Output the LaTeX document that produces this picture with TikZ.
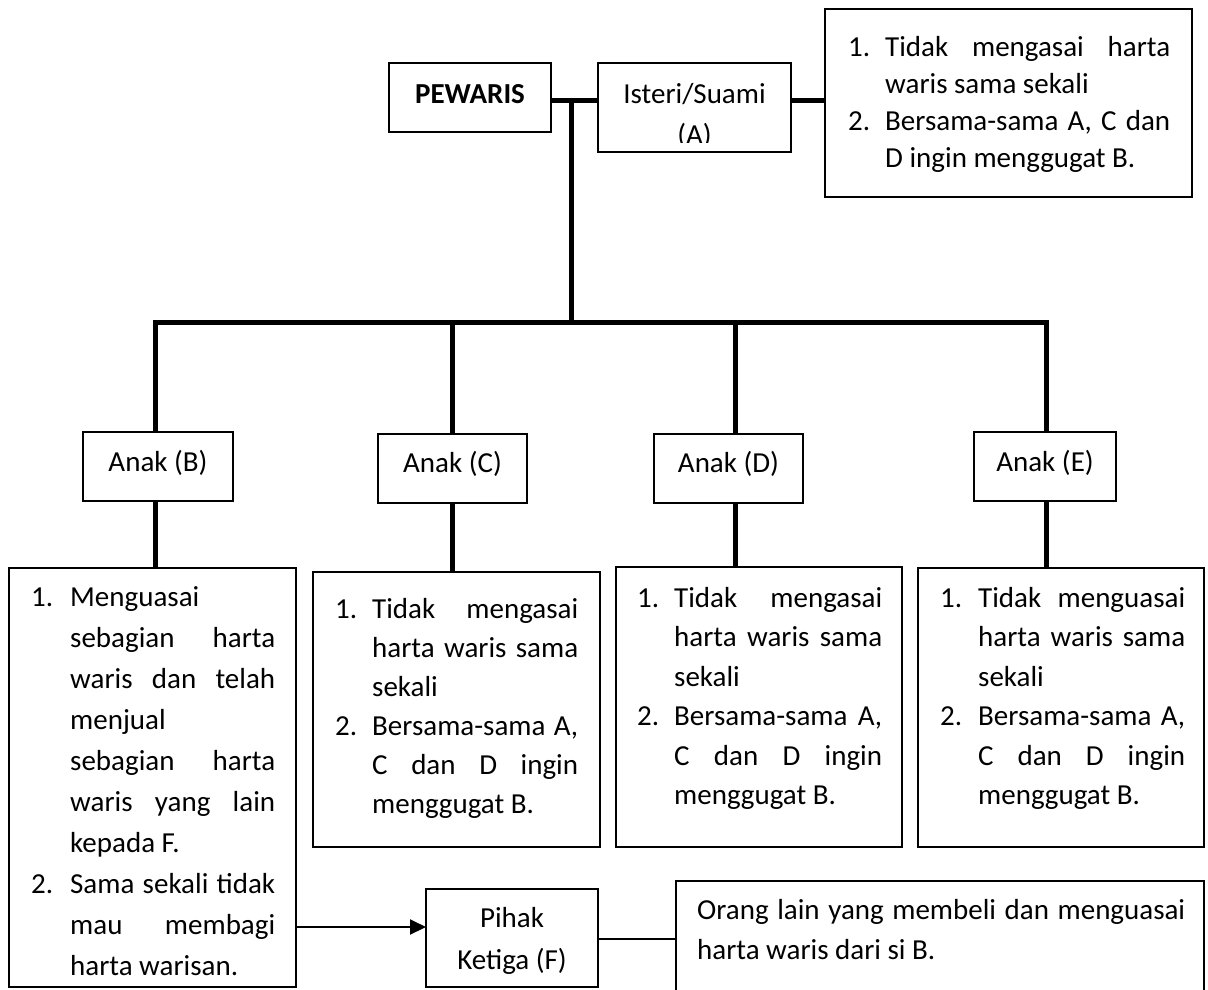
\documentclass[tikz,border=0pt]{standalone}
\usepackage{fontspec}
\setmainfont{Carlito}
\usetikzlibrary{arrows.meta,calc}
\newlength\nw
\newlength\tw
\newcommand\Ln[2]{\makebox[\nw][l]{#1}\makebox[\tw][s]{#2}\par}
\newcommand\Ll[2]{\makebox[\nw][l]{#1}\makebox[\tw][l]{#2}\par}
\newcommand\txtblock[4]{\parbox[t]{\dimexpr#1+#2\relax}{\setlength\nw{#1}\setlength\tw{#2}\fontsize{29pt}{#3}\selectfont\parindent=0pt\parskip=0pt\relax #4}}
\begin{document}
\begin{tikzpicture}[x=1pt,y=-1pt,
  frame/.style={draw=black, line width=2pt, rectangle, inner sep=0pt, outer sep=0pt},
  thickline/.style={line width=5pt, draw=black},
  thinline/.style={line width=2pt, draw=black},
  lbl/.style={inner sep=0pt, anchor=base, font=\fontsize{29pt}{41pt}\selectfont},
  blk/.style={inner sep=0pt, anchor=base west}]
\useasboundingbox (0,0) rectangle (1208,989);
\fill[white] (0,0) rectangle (1208,989);

% frames
\node[frame, minimum width=162pt, minimum height=69pt] (pw) at (470,97.5) {};
\node[frame, minimum width=193pt, minimum height=89pt] (iA) at (694.5,107.5) {};
\node[frame, minimum width=367pt, minimum height=188pt] (rA) at (1008.5,103) {};
\node[frame, minimum width=150pt, minimum height=69pt] (aB) at (158,466.5) {};
\node[frame, minimum width=149pt, minimum height=69pt] (aC) at (452.5,468.5) {};
\node[frame, minimum width=149pt, minimum height=69pt] (aD) at (728.5,468.5) {};
\node[frame, minimum width=142pt, minimum height=69pt] (aE) at (1045,466.5) {};
\node[frame, minimum width=287pt, minimum height=419pt] (bB) at (152.5,777.5) {};
\node[frame, minimum width=287pt, minimum height=275pt] (bC) at (456.5,709.5) {};
\node[frame, minimum width=286pt, minimum height=280pt] (bD) at (759,707) {};
\node[frame, minimum width=286pt, minimum height=279pt] (bE) at (1061,707.5) {};
\node[frame, minimum width=172pt, minimum height=98pt] (pF) at (512,938) {};
\node[frame, minimum width=528pt, minimum height=114pt] (oF) at (940,938) {};

% labels
\node[lbl] (tpw) at (470,103.5) {\bfseries PEWARIS};
\begin{scope}
  \clip (iA.north west) rectangle ($(iA.south east)+(0,-10)$);
  \node[lbl] (tA1) at (694.5,103.5) {Isteri/Suami};
  \node[lbl] (tA2) at (694.5,144) {(A)};
\end{scope}
\node[blk] (trA) at (848,56) {\txtblock{37pt}{285pt}{37.2pt}{%
  \Ln{1.}{Tidak mengasai harta}%
  \Ll{}{waris sama sekali}%
  \Ln{2.}{Bersama-sama A, C dan}%
  \Ll{}{D ingin menggugat B.}}};
\node[lbl] (taB) at (158,471) {Anak (B)};
\node[lbl] (taC) at (452.5,472) {Anak (C)};
\node[lbl] (taD) at (728.5,472) {Anak (D)};
\node[lbl] (taE) at (1045,471) {Anak (E)};

\node[blk] (tbB) at (31,606) {\txtblock{39pt}{205pt}{41.1pt}{%
  \Ll{1.}{Menguasai}%
  \Ln{}{sebagian harta}%
  \Ln{}{waris dan telah}%
  \Ll{}{menjual}%
  \Ln{}{sebagian harta}%
  \Ln{}{waris yang lain}%
  \Ll{}{kepada F.}%
  \Ln{2.}{Sama sekali tidak}%
  \Ln{}{mau membagi}%
  \Ll{}{harta warisan.}}};
\node[blk] (tbC) at (335,618) {\txtblock{37pt}{206pt}{39pt}{%
  \Ln{1.}{Tidak mengasai}%
  \Ln{}{harta waris sama}%
  \Ll{}{sekali}%
  \Ln{2.}{Bersama-sama A,}%
  \Ln{}{C dan D ingin}%
  \Ll{}{menggugat B.}}};
\node[blk] (tbD) at (637,607) {\txtblock{37pt}{208pt}{39.5pt}{%
  \Ln{1.}{Tidak mengasai}%
  \Ln{}{harta waris sama}%
  \Ll{}{sekali}%
  \Ln{2.}{Bersama-sama A,}%
  \Ln{}{C dan D ingin}%
  \Ll{}{menggugat B.}}};
\node[blk] (tbE) at (940,607) {\txtblock{38pt}{207pt}{39.5pt}{%
  \Ln{1.}{Tidak menguasai}%
  \Ln{}{harta waris sama}%
  \Ll{}{sekali}%
  \Ln{2.}{Bersama-sama A,}%
  \Ln{}{C dan D ingin}%
  \Ll{}{menggugat B.}}};
\node[lbl] (tF1) at (512,927.5) {Pihak};
\node[lbl] (tF2) at (512,969) {Ketiga (F)};
\node[blk] (toF) at (697,919) {\txtblock{0pt}{488pt}{40pt}{%
  \Ln{}{Orang lain yang membeli dan menguasai}%
  \Ll{}{harta waris dari si B.}}};

% thick connectors
\coordinate (jTop) at (571,100);
\coordinate (jBar) at (571,322);
\coordinate (jB) at (155.7,322);
\coordinate (jC) at (452.5,322);
\coordinate (jD) at (735,322);
\coordinate (jE) at (1046,322);
\draw[thickline] (jTop -| pw.east) -- (jTop -| iA.west);
\draw[thickline] (jTop -| iA.east) -- (jTop -| rA.west);
\draw[thickline] (jTop) -- (jBar);
\draw[thickline, line cap=rect] (jB) -- (jE);
\draw[thickline] (jB) -- (jB |- aB.north);
\draw[thickline] (jC) -- (jC |- aC.north);
\draw[thickline] (jD) -- (jD |- aD.north);
\draw[thickline] (jE) -- (jE |- aE.north);
\draw[thickline] (jB |- aB.south) -- (jB |- bB.north);
\draw[thickline] (jC |- aC.south) -- (jC |- bC.north);
\draw[thickline] (jD |- aD.south) -- (jD |- bD.north);
\draw[thickline] (jE |- aE.south) -- (jE |- bE.north);

% thin connectors
\coordinate (ar) at (0,927);
\coordinate (lr) at (0,939);
\draw[thinline, -{Triangle[length=16pt,width=15pt]}] (ar -| bB.east) -- (ar -| pF.west);
\draw[thinline] (lr -| pF.east) -- (lr -| oF.west);
\end{tikzpicture}
\end{document}
